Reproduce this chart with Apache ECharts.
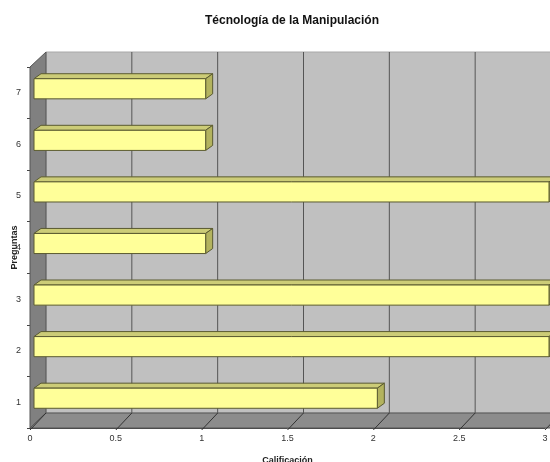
<!DOCTYPE html>
<html>
<head>
<meta charset="utf-8">
<script src="https://cdn.jsdelivr.net/npm/echarts@6/dist/echarts.min.js"></script>
<style>
  html, body { margin: 0; padding: 0; background: #fff; }
  #chart { width: 550px; height: 462px; }
</style>
</head>
<body>
<div id="chart"></div>
<script>
// Question numbers (category axis) and their scores
const preguntas = ['1', '2', '3', '4', '5', '6', '7'];
const calificacion = [2, 3, 3, 1, 3, 1, 1];
const xTicks = [0, 0.5, 1, 1.5, 2, 2.5, 3];

// Depth offsets for the pseudo-3D look
const WALL_DX = 16, WALL_DY = -15;
const BAR_DX = 4, BAR_DY = -4;
const BAR_DEPTH_X = 7, BAR_DEPTH_Y = -5;

const chart = echarts.init(document.getElementById('chart'), null, { renderer: 'canvas' });

// Back wall, side wall, floor and gridlines drawn from the grid's coordinate system
function renderFrame(params, api) {
  const cs = params.coordSys;
  const left = cs.x, top = cs.y, right = cs.x + cs.width, bottom = cs.y + cs.height;
  const children = [];
  // back wall
  children.push({
    type: 'rect',
    shape: { x: left + WALL_DX, y: top + WALL_DY, width: cs.width + 40, height: cs.height },
    style: { fill: '#c0c0c0', stroke: '#a8a8a8', lineWidth: 1 }
  });
  // left side wall
  children.push({
    type: 'polygon',
    shape: { points: [[left, bottom], [left + WALL_DX, bottom + WALL_DY], [left + WALL_DX, top + WALL_DY], [left, top]] },
    style: { fill: '#808080', stroke: '#555', lineWidth: 1 }
  });
  // floor
  children.push({
    type: 'polygon',
    shape: { points: [[left, bottom], [left + WALL_DX, bottom + WALL_DY], [right + WALL_DX + 40, bottom + WALL_DY], [right + 40, bottom]] },
    style: { fill: '#8c8c8c', stroke: '#555', lineWidth: 1 }
  });
  // gridlines on the back wall and diagonals across the floor
  xTicks.forEach(function (v) {
    const x = api.coord([v, 0])[0];
    if (v > 0) {
      children.push({
        type: 'line',
        shape: { x1: x + WALL_DX, y1: top + WALL_DY, x2: x + WALL_DX, y2: bottom + WALL_DY },
        style: { stroke: '#555', lineWidth: 1 }
      });
    }
    children.push({
      type: 'line',
      shape: { x1: x, y1: bottom + 2, x2: x + WALL_DX, y2: bottom + WALL_DY },
      style: { stroke: '#333', lineWidth: 1 }
    });
  });
  return { type: 'group', children: children };
}

// 3D-looking horizontal bars
function renderBar(params, api) {
  const cat = api.value(0);
  const val = api.value(1);
  const start = api.coord([0, cat]);
  const end = api.coord([val, cat]);
  const h = api.size([0, 1])[1] * 0.39;
  const x = start[0] + BAR_DX;
  const y = end[1] + BAR_DY - h / 2;
  const w = end[0] - start[0];
  const stroke = '#5a5a30';
  return {
    type: 'group',
    children: [
      {
        type: 'polygon',
        shape: { points: [[x, y], [x + BAR_DEPTH_X, y + BAR_DEPTH_Y], [x + w + BAR_DEPTH_X, y + BAR_DEPTH_Y], [x + w, y]] },
        style: { fill: '#cccc77', stroke: stroke, lineWidth: 1 }
      },
      {
        type: 'polygon',
        shape: { points: [[x + w, y], [x + w + BAR_DEPTH_X, y + BAR_DEPTH_Y], [x + w + BAR_DEPTH_X, y + h + BAR_DEPTH_Y], [x + w, y + h]] },
        style: { fill: '#b3b35e', stroke: stroke, lineWidth: 1 }
      },
      {
        type: 'rect',
        shape: { x: x, y: y, width: w, height: h },
        style: { fill: '#ffff99', stroke: stroke, lineWidth: 1 }
      }
    ]
  };
}

const option = {
  animation: false,
  backgroundColor: '#ffffff',
  title: {
    text: 'Técnología de la Manipulación',
    left: 200,
    top: 10,
    textStyle: { fontFamily: 'Liberation Sans, Arial, sans-serif', fontSize: 12, fontWeight: 'bold', color: '#111' }
  },
  grid: { left: 30, right: 5, top: 67, bottom: 34, containLabel: false, outerBoundsMode: 'none' },
  xAxis: {
    type: 'value',
    min: 0,
    max: 3,
    interval: 0.5,
    name: 'Calificación',
    nameLocation: 'middle',
    nameGap: 28,
    nameMoveOverlap: false,
    nameTextStyle: { fontFamily: 'Liberation Sans, Arial, sans-serif', fontSize: 9, fontWeight: 'bold', color: '#222' },
    axisLine: { show: true, lineStyle: { color: '#444' } },
    axisTick: { show: false },
    splitLine: { show: false },
    axisLabel: { fontFamily: 'Liberation Sans, Arial, sans-serif', fontSize: 9, color: '#333', margin: 6 }
  },
  yAxis: {
    type: 'category',
    data: preguntas,
    name: 'Preguntas',
    nameLocation: 'middle',
    nameGap: 11,
    nameRotate: 90,
    nameMoveOverlap: false,
    nameTextStyle: { fontFamily: 'Liberation Sans, Arial, sans-serif', fontSize: 9, fontWeight: 'bold', color: '#222' },
    axisLine: { show: true, lineStyle: { color: '#444' } },
    axisTick: { show: true, length: 3, lineStyle: { color: '#444' } },
    axisLabel: { fontFamily: 'Liberation Sans, Arial, sans-serif', fontSize: 9, color: '#333', margin: 9 },
    splitLine: { show: false }
  },
  series: [
    {
      type: 'custom',
      renderItem: renderFrame,
      data: [[0, 0]],
      encode: { x: 1, y: 0 },
      clip: false,
      silent: true,
      z: 1
    },
    {
      type: 'custom',
      renderItem: renderBar,
      data: preguntas.map(function (c, i) { return [i, calificacion[i]]; }),
      encode: { x: 1, y: 0 },
      clip: false,
      z: 3
    }
  ]
};

chart.setOption(option);
</script>
</body>
</html>
